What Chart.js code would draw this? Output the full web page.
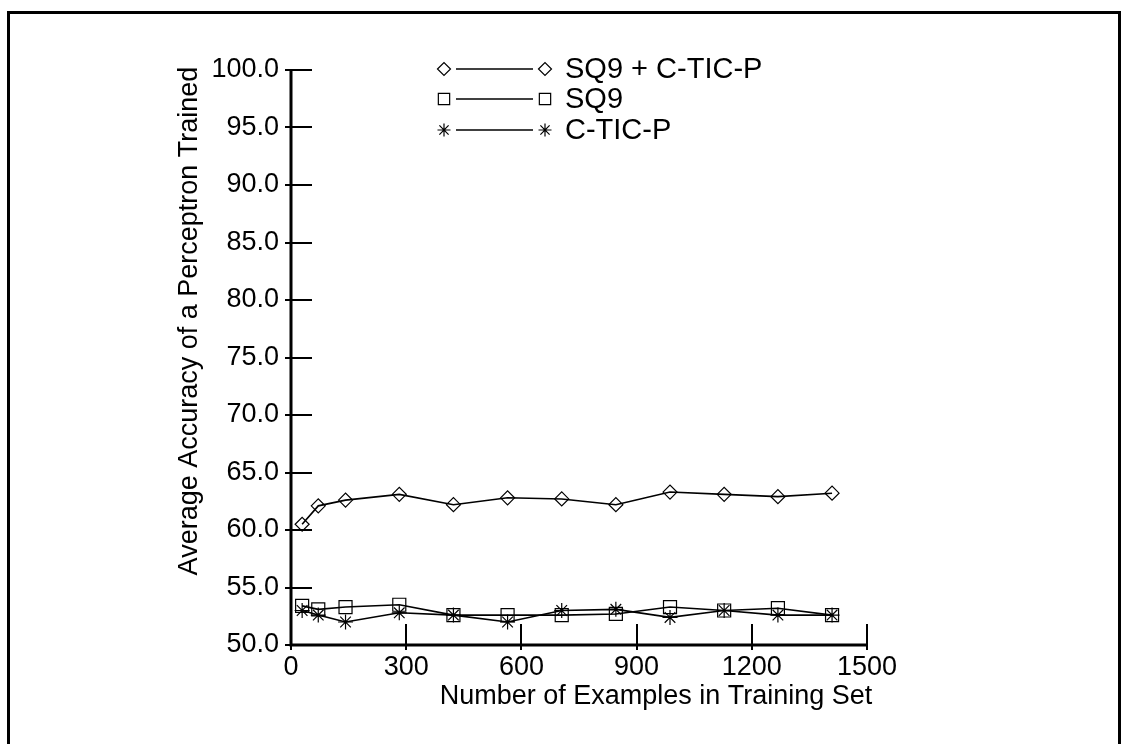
<!DOCTYPE html>
<html>
<head>
<meta charset="utf-8">
<script src="https://cdn.jsdelivr.net/npm/chart.js@4/dist/chart.umd.min.js"></script>
<style>
html,body{margin:0;padding:0;background:#fff;}
canvas{display:block;}
</style>
</head>
<body>
<canvas id="c" width="1126" height="744"></canvas>
<script>
const examples = [29, 71, 142, 282, 423, 564, 705, 846, 987, 1128, 1268, 1409];
const sq9ctic = [60.5, 62.1, 62.6, 63.1, 62.2, 62.8, 62.7, 62.2, 63.3, 63.1, 62.9, 63.2];
const sq9 = [53.4, 53.1, 53.3, 53.5, 52.6, 52.6, 52.6, 52.7, 53.3, 53.0, 53.2, 52.6];
const cticp = [53.0, 52.6, 52.0, 52.8, 52.6, 52.0, 53.0, 53.1, 52.4, 53.0, 52.6, 52.6];
const seriesNames = ['SQ9 + C-TIC-P', 'SQ9', 'C-TIC-P'];
const seriesStyles = ['rectRot', 'rect', 'star'];
const xTitle = 'Number of Examples in Training Set';
const yTitle = 'Average Accuracy of a Perceptron Trained';
const FONT = '"Liberation Sans", Arial, sans-serif';
const FS = 27;
const LFS = 29;

function pts(ys){ return examples.map((x,i)=>({x:x, y:ys[i]})); }
const radii = {rectRot: 7, rect: 9.2, star: 7.5};

const datasets = [sq9ctic, sq9, cticp].map((ys, i) => ({
  label: seriesNames[i],
  data: pts(ys),
  showLine: true,
  borderColor: '#000',
  borderWidth: 1.6,
  backgroundColor: 'rgba(0,0,0,0)',
  pointStyle: seriesStyles[i],
  pointRadius: radii[seriesStyles[i]],
  pointBorderWidth: 1.2,
  pointBorderColor: '#000',
  pointBackgroundColor: 'rgba(0,0,0,0)',
  tension: 0
}));

const decor = {
  id: 'decor',
  beforeDatasetsDraw(chart){
    const ctx = chart.ctx;
    const xs = chart.scales.x, ys = chart.scales.y;
    const a = chart.chartArea;
    ctx.save();
    ctx.strokeStyle = '#000';
    ctx.lineWidth = 3;
    ctx.beginPath();
    ctx.moveTo(8.5, 744); ctx.lineTo(8.5, 12.5); ctx.lineTo(1119.5, 12.5); ctx.lineTo(1119.5, 744);
    ctx.stroke();
    ctx.lineWidth = 3;
    ctx.beginPath();
    ctx.moveTo(a.left, ys.getPixelForValue(100)); ctx.lineTo(a.left, a.bottom);
    ctx.lineTo(xs.getPixelForValue(1500), a.bottom);
    ctx.stroke();
    ctx.lineWidth = 2;
    ys.ticks.forEach(t => {
      const y = Math.round(ys.getPixelForValue(t.value));
      ctx.beginPath(); ctx.moveTo(a.left - 6, y); ctx.lineTo(a.left + 21, y); ctx.stroke();
    });
    xs.ticks.forEach(t => {
      const x = Math.round(xs.getPixelForValue(t.value));
      ctx.beginPath(); ctx.moveTo(x, a.bottom - 21); ctx.lineTo(x, a.bottom + 5); ctx.stroke();
    });
    ctx.restore();
  },
  afterDraw(chart){
    const ctx = chart.ctx;
    ctx.save();
    ctx.fillStyle = '#000';
    ctx.font = FS + 'px ' + FONT;
    ctx.textAlign = 'center';
    ctx.textBaseline = 'middle';
    ctx.fillText(xTitle, 656, 697);
    ctx.save();
    ctx.translate(190, 321);
    ctx.rotate(-Math.PI/2);
    ctx.fillText(yTitle, 0, 0);
    ctx.restore();
    // legend
    const rows = [69, 99, 130];
    ctx.font = LFS + 'px ' + FONT;
    ctx.textAlign = 'left';
    ctx.strokeStyle = '#000';
    rows.forEach((y, i) => {
      const st = seriesStyles[i];
      const r = st === 'rect' ? 8 : 6.5;
      ctx.fillStyle = 'rgba(0,0,0,0)';
      ctx.lineWidth = 1.2;
      Chart.helpers.drawPoint(ctx, {pointStyle: st, radius: r, rotation: 0, borderWidth: 1.2}, 444, y);
      Chart.helpers.drawPoint(ctx, {pointStyle: st, radius: r, rotation: 0, borderWidth: 1.2}, 545, y);
      ctx.lineWidth = 1.6;
      ctx.beginPath(); ctx.moveTo(456, y); ctx.lineTo(533, y); ctx.stroke();
      ctx.fillStyle = '#000';
      ctx.fillText(seriesNames[i], 565, y + 1);
    });
    ctx.restore();
  }
};

new Chart(document.getElementById('c'), {
  type: 'scatter',
  data: { datasets },
  options: {
    responsive: false,
    animation: false,
    events: [],
    layout: { padding: { left: 0, right: 259, top: 70, bottom: 0 } },
    plugins: { legend: { display: false }, tooltip: { enabled: false } },
    scales: {
      x: {
        type: 'linear', min: 0, max: 1500,
        afterFit(s){ s.height = 99; },
        ticks: { stepSize: 300, color: '#000', padding: 6, font: { family: FONT, size: FS }, maxRotation: 0,
          callback: v => String(v) },
        grid: { display: false, drawTicks: false },
        border: { display: false }
      },
      y: {
        type: 'linear', min: 50, max: 100,
        afterFit(s){ s.width = 291; },
        ticks: { stepSize: 5, color: '#000', padding: 12, font: { family: FONT, size: FS },
          callback: v => Number(v).toFixed(1) },
        grid: { display: false, drawTicks: false },
        border: { display: false }
      }
    }
  },
  plugins: [decor]
});
</script>
</body>
</html>
